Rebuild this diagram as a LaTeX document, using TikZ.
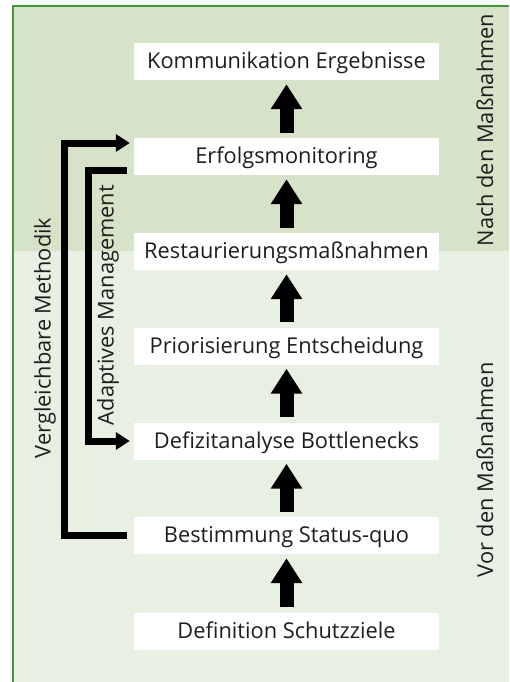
\documentclass[tikz,border=0pt]{standalone}
\usepackage{fontspec}
\setmainfont{Open Sans}
\usetikzlibrary{arrows.meta}
\definecolor{rahmen}{RGB}{64,150,56}
\definecolor{nachbg}{RGB}{214,227,201}
\definecolor{vorbg}{RGB}{232,240,227}
\definecolor{schrift}{RGB}{30,30,30}
\begin{document}
\begin{tikzpicture}[x=1pt,y=-1pt,
  box/.style={fill=white,minimum width=305pt,minimum height=37pt,inner sep=0pt,
    text height=18pt,text depth=4pt,text=schrift,font=\fontsize{21.8}{25}\selectfont},
  blockpfeil/.style={line width=14pt,-{Triangle[width=30pt,length=25pt]},shorten <=5pt,shorten >=4pt},
  klammer/.style={line width=7pt,line join=miter,-{Triangle[width=17pt,length=14pt]}},
  seite/.style={rotate=90,text=schrift,font=\fontsize{21.8}{25}\selectfont}]
\useasboundingbox (0,0) rectangle (509,682);
% Hintergrund und Rahmen
\fill[nachbg] (13,6) rectangle (509,251);
\fill[vorbg] (13,251) rectangle (509,682);
\draw[rahmen,line width=2pt] (13,682)--(13,6)--(509,6);
\def\xm{286.5}
\path
(\xm,61.5) node[box] (komm) {Kommunikation Ergebnisse}
(\xm,156.5) node[box] (erfolg) {Erfolgsmonitoring}
(\xm,251.5) node[box] (rest) {Restaurierungsmaßnahmen}
(\xm,346) node[box] (prio) {Priorisierung Entscheidung}
(\xm,441) node[box] (defiz) {Defizitanalyse Bottlenecks}
(\xm,535.5) node[box] (best) {Bestimmung Status-quo}
(\xm,631) node[box] (defin) {Definition Schutzziele}
(64.5,0) coordinate (vm)
(88.5,0) coordinate (am);
\foreach \u/\o in {defin/best,best/defiz,defiz/prio,prio/rest,rest/erfolg,erfolg/komm}{\draw[blockpfeil] (\u.north)--(\o.south);
}
% Rueckkopplungen links
\draw[klammer] ([xshift=-7pt]best.west) -| ([yshift=13.5pt]erfolg.west -| vm) -- ([xshift=-4pt,yshift=13.5pt]erfolg.west);
\draw[klammer] ([xshift=-7pt,yshift=-13.5pt]erfolg.west) -| (defiz.west -| am) -- ([xshift=-4pt]defiz.west);
\node[seite] (vergl) at (45,338) {Vergleichbare Methodik};
\node[seite] (adapt) at (108,305) {Adaptives Management};
\node[seite] (nach) at (485,130) {Nach den Maßnahmen};
\node[seite] (vor) at (485,470) {Vor den Maßnahmen};
\end{tikzpicture}
\end{document}
